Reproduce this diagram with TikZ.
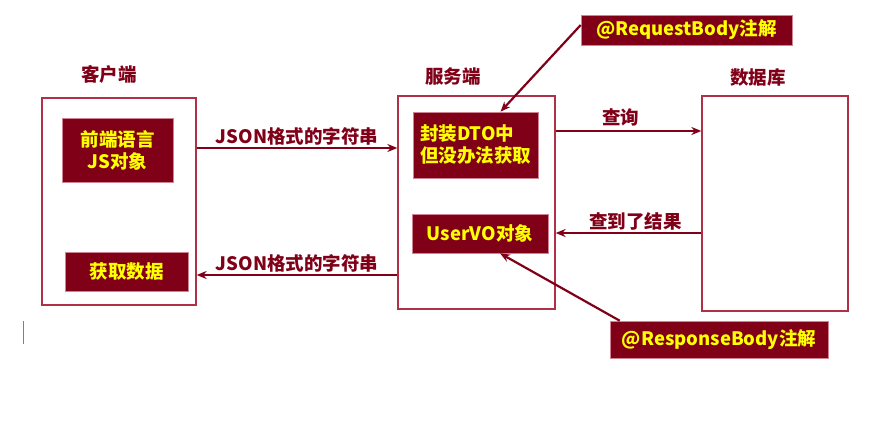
\documentclass[tikz,border=0pt]{standalone}
\usepackage{fontspec}
\setmainfont{Noto Sans CJK SC}
\usetikzlibrary{arrows.meta}
\usetikzlibrary{positioning}
\definecolor{maroon}{HTML}{800018}
\definecolor{frame}{HTML}{B03048}
\definecolor{note}{HTML}{FFFF00}

\begin{document}
\begin{tikzpicture}[x=1pt,y=-1pt,font=\fontsize{18.5}{22}\selectfont\bfseries,
    side/.style={draw=frame, line width=1.3pt, fill=white, inner sep=0pt},
    redbox/.style={draw=frame!60, line width=0.6pt, fill=maroon, text=note, inner sep=0pt, align=center},
    title/.style={text=maroon},
    arr/.style={-{Stealth[length=10pt,width=8pt]}, draw=maroon, line width=2.2pt},
    lbl/.style={text=maroon, above, inner sep=2pt}]
            \useasboundingbox (0,0) rectangle (890,425);
            % three sides of the exchange
            \node[side, minimum width=154, minimum height=207] (client) at (119,201.5) {};
            \node[side, minimum width=157, minimum height=213] (server) at (476.5,202.5) {};
            \node[side, minimum width=146, minimum height=215] (db) at (775,203.5) {};
            \node[title] (clienttitle) at (109,74) {客户端};
            \node[title] (servertitle) at (453,76) {服务端};
            \node[title] (dbtitle) at (758,77) {数据库};
            
            % contents
            \node[redbox, minimum width=111, minimum height=64] (jsobj) at (117.5,150) {前端语言\\JS对象};
            \node[redbox, minimum width=123, minimum height=39] (getdata) at (126.5,271.5) {获取数据};
            \node[redbox, minimum width=125, minimum height=66, align=left] (dto) at (475.5,145) {封装DTO中\\但没办法获取};
            \node[redbox, minimum width=136, minimum height=39] (uservo) at (480,233.5) {UserVO对象};
            \node[redbox, minimum width=211, minimum height=30] (reqnote) at (686.5,30) {@RequestBody注解};
            \node[redbox, minimum width=218, minimum height=37] (respnote) at (719,339.5) {@ResponseBody注解};
            
            % messages
            \draw[arr] (client.east |- 0,148) -- node[lbl] {JSON格式的字符串} (server.west |- 0,148);
            \draw[arr] (server.west |- 0,275) -- node[lbl] {JSON格式的字符串} (client.east |- 0,275);
            \draw[arr] (server.east |- 0,131) -- node[lbl, xshift=-8, yshift=2] {查询} (db.west |- 0,131);
            \draw[arr] (db.west |- 0,233) -- node[lbl, xshift=7] {查到了结果} (server.east |- 0,233);
            \draw[arr] ([yshift=5]reqnote.west) -- ([xshift=25]dto.north);
            \draw[arr] ([xshift=10]respnote.north west) -- ([xshift=20]uservo.south);
            
            \draw[gray, line width=0.8pt] (23,321) -- (23,344);
        \end{tikzpicture}
\end{document}
